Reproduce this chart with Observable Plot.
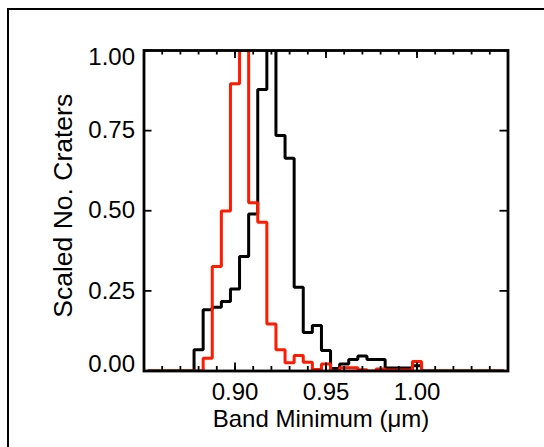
<!DOCTYPE html>
<html><head><meta charset="utf-8">
<script src="https://cdn.jsdelivr.net/npm/d3@7"></script>
<script src="https://cdn.jsdelivr.net/npm/@observablehq/plot@0.6"></script>
<style>
body{margin:0;overflow:hidden;background:#fff;width:544px;height:447px;position:relative}
#box{position:absolute;left:7px;top:8px;width:700px;height:700px;border-left:2.4px solid #000;border-top:2.4px solid #000}
#chart{position:absolute;left:0;top:0}
</style></head><body>
<div id="box"></div><div id="chart"></div>
<script>
const binCenters = [0.855,0.860,0.865,0.870,0.875,0.880,0.885,0.890,0.895,0.900,0.905,0.910,0.915,0.920,0.925,0.930,0.935,0.940,0.945,0.950,0.955,0.960,0.965,0.970,0.975,0.980,0.985,0.990,0.995,1.000,1.005,1.010,1.015,1.020,1.025,1.030,1.035,1.040,1.045];
const blackCounts = [0,0,0,0,0,0.066,0.191,0.199,0.217,0.256,0.357,0.490,0.878,1.0,0.735,0.664,0.261,0.120,0.142,0.064,0.008,0.022,0.036,0.047,0.036,0.036,0.009,0.009,0.009,0.016,0,0,0,0,0,0,0,0,0];
const redCounts   = [0,0,0,0,0,0,0.040,0.326,0.499,0.896,1.0,0.525,0.464,0.147,0.066,0.026,0.048,0.027,0.005,0.022,0,0.010,0.010,0.004,0,0.006,0.003,0.003,0.003,0.030,0,0,0,0,0,0,0,0,0];
const binWidth = 0.005;
const xMajorTicks = [0.90,0.95,1.00];
const xMinorTicks = [0.86,0.87,0.88,0.89,0.90,0.91,0.92,0.93,0.94,0.95,0.96,0.97,0.98,0.99,1.00,1.01,1.02,1.03,1.04];
const yTicks = [0,0.25,0.5,0.75,1.0];
const xTitle = "Band Minimum (\u03bcm)";
const yTitle = "Scaled No. Craters";

const steps = counts => binCenters.flatMap((c,i)=>[{x:c-binWidth/2,y:counts[i]},{x:c+binWidth/2,y:counts[i]}]);
const blackPts = steps(blackCounts), redPts = steps(redCounts);
const fmt = d3.format(".2f");
const W=544,H=447,mT=50,mB=76.5,mL=143.5,mR=36.5;
const ph = H-mT-mB;

const chart = Plot.plot({
  width:W,height:H,marginTop:mT,marginBottom:mB,marginLeft:mL,marginRight:mR,
  style:{fontFamily:"'Liberation Sans', Helvetica, Arial, sans-serif",fontSize:"24px",color:"#000",background:"transparent"},
  x:{domain:[0.85,1.05],axis:null},
  y:{domain:[0,1],axis:null},
  marks:[
    Plot.line(blackPts,{x:"x",y:"y",stroke:"#000",strokeWidth:3,clip:true,strokeLinejoin:"miter"}),
    Plot.line(redPts,{x:"x",y:"y",stroke:"#ff1a00",strokeWidth:3,clip:true,strokeLinejoin:"miter"}),
    Plot.frame({stroke:"#000",strokeWidth:2.8}),
    Plot.tickX(xMinorTicks,{x:d=>d,insetTop:ph-4.5,stroke:"#000",strokeWidth:1.8}),
    Plot.tickX(xMinorTicks,{x:d=>d,insetBottom:ph-4.5,stroke:"#000",strokeWidth:1.8}),
    Plot.tickX(xMajorTicks,{x:d=>d,insetTop:ph-8,stroke:"#000",strokeWidth:1.8}),
    Plot.tickX(xMajorTicks,{x:d=>d,insetBottom:ph-8,stroke:"#000",strokeWidth:1.8}),
    Plot.tickY(yTicks,{y:d=>d,insetRight:(W-mL-mR)-8,stroke:"#000",strokeWidth:1.8}),
    Plot.tickY(yTicks,{y:d=>d,insetLeft:(W-mL-mR)-8,stroke:"#000",strokeWidth:1.8}),
    Plot.text(xMajorTicks,{x:d=>d,text:d=>fmt(d),frameAnchor:"bottom",dy:21,lineAnchor:"middle",fill:"#000"}),
    Plot.text(yTicks.filter(d=>d>0&&d<1),{y:d=>d,text:d=>fmt(d),frameAnchor:"left",textAnchor:"end",dx:-9,lineAnchor:"middle",fill:"#000"}),
    Plot.text(yTicks.filter(d=>d===1),{y:d=>d,text:d=>fmt(d),frameAnchor:"left",textAnchor:"end",dx:-9,dy:7,lineAnchor:"middle",fill:"#000"}),
    Plot.text(yTicks.filter(d=>d===0),{y:d=>d,text:d=>fmt(d),frameAnchor:"left",textAnchor:"end",dx:-9,dy:-7,lineAnchor:"middle",fill:"#000"}),
    Plot.text([xTitle],{text:d=>d,frameAnchor:"bottom",dy:48,dx:-5,lineAnchor:"middle",fill:"#000"}),
    Plot.text([yTitle],{text:d=>d,frameAnchor:"left",textAnchor:"middle",dx:-80.5,dy:-5,rotate:-90,lineAnchor:"middle",fill:"#000",fontSize:26.5})
  ]
});
document.getElementById("chart").appendChild(chart);
</script></body></html>
